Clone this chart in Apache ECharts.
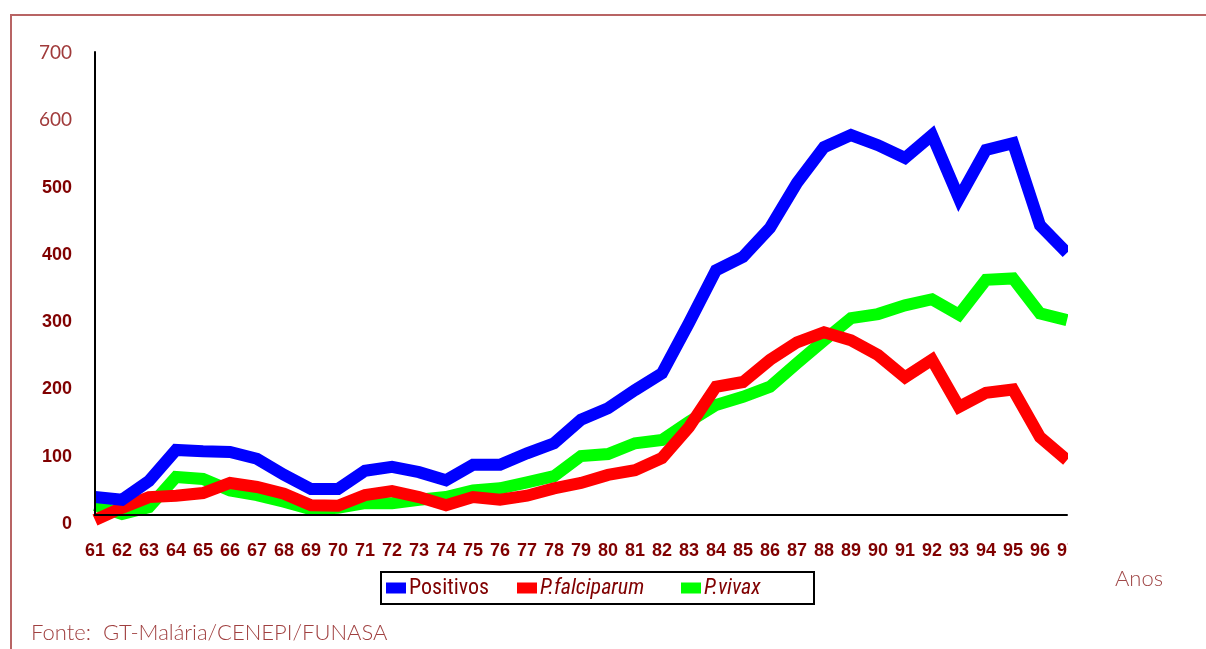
<!DOCTYPE html>
<html>
<head>
<meta charset="utf-8">
<script src="https://cdn.jsdelivr.net/npm/echarts@6/dist/echarts.min.js"></script>
<style>
html,body{margin:0;padding:0;background:#fff;}
#chart{width:1206px;height:649px;}
</style>
</head>
<body>
<div id="chart"></div>
<script>
const years = ['61','62','63','64','65','66','67','68','69','70','71','72','73','74','75','76','77','78','79','80','81','82','83','84','85','86','87','88','89','90','91','92','93','94','95','96','97'];
const positivos = [40,36,64,110,108,107,97,73,52,52,79,85,77,65,88,88,105,120,155,172,199,224,299,377,397,440,507,560,578,563,544,578,484,556,566,444,403];
const falciparum = [6,24,40,42,46,61,55,45,28,27,43,49,40,28,40,36,42,53,61,73,80,98,144,204,211,244,270,285,273,251,218,244,174,195,200,129,95];
const vivax = [28,15,25,70,67,50,43,33,22,24,31,31,36,40,50,53,62,71,101,104,120,125,152,177,189,204,239,273,306,312,325,334,311,363,365,313,303];
const yTicks = [0,100,200,300,400,500,600,700];
const seriesNames = ['Positivos','P.falciparum','P.vivax'];
const axisTitle = 'Anos';
const sourceText = 'Fonte:  GT-Malária/CENEPI/FUNASA';

const chart = echarts.init(document.getElementById('chart'), null, {renderer:'canvas'});
const lightFont = 'Lato, "Open Sans", sans-serif';
const boldFont = '"Liberation Sans", Arial, sans-serif';
const legendFont = '"Liberation Sans Narrow", "Roboto Condensed", Roboto, sans-serif';

function lineSeries(name, data, color, z){
  return {
    name: name, type: 'line', data: data, xAxisIndex: 0, yAxisIndex: 0,
    showSymbol: false, symbol: 'none', z: z, animation: false,
    lineStyle: {color: color, width: 12, cap: 'butt', join: 'miter', miterLimit: 6},
    itemStyle: {color: color}
  };
}

chart.setOption({
  backgroundColor: '#ffffff',
  animation: false,
  grid: [
    {left: 95, right: 139, top: 53, bottom: 125},
    {left: 95, right: 139, top: 52, bottom: 134}
  ],
  xAxis: [
    {type: 'category', gridIndex: 0, data: years, boundaryGap: false, show: false},
    {type: 'category', gridIndex: 1, data: years, boundaryGap: false, z: 10,
     axisLine: {show: true, lineStyle: {color: '#000', width: 2}},
     axisTick: {show: false},
     axisLabel: {interval: 0, margin: 27, color: '#800000', fontFamily: boldFont, fontWeight: 'bold', fontSize: 18},
     splitLine: {show: false}}
  ],
  yAxis: [
    {type: 'value', gridIndex: 0, min: 0, max: 700, interval: 100,
     axisLine: {show: false}, axisTick: {show: false}, splitLine: {show: false},
     axisLabel: {margin: 23, align: 'right',
       formatter: function(v){ return (v >= 600 ? '{l|' : '{b|') + v + '}'; },
       rich: {
         l: {fontFamily: lightFont, fontSize: 19, color: '#a03a3a'},
         b: {fontFamily: boldFont, fontSize: 18, fontWeight: 'bold', color: '#800000'}
       }}},
    {type: 'value', gridIndex: 1, min: 0, max: 700, interval: 100, z: 10,
     axisLine: {show: true, lineStyle: {color: '#000', width: 2}},
     axisTick: {show: false}, axisLabel: {show: false}, splitLine: {show: false}}
  ],
  legend: {
    left: 381, top: 572, orient: 'horizontal',
    itemWidth: 20, itemHeight: 11, itemGap: 0,
    borderColor: '#000', borderWidth: 2, borderRadius: 0,
    padding: [5, 0, 5, 5],
    icon: 'rect',
    textStyle: {fontFamily: legendFont, fontSize: 22, color: '#800000', lineHeight: 22, padding: [0,0,0,-2]},
    data: [
      {name: seriesNames[0], textStyle: {width: 108}},
      {name: seriesNames[1], textStyle: {width: 141, fontStyle: 'italic'}},
      {name: seriesNames[2], textStyle: {width: 110, fontStyle: 'italic'}}
    ]
  },
  graphic: [
    {type: 'polyline', z: 50, shape: {points: [[11, 649], [11, 15], [1206, 15]]},
     style: {stroke: '#b86464', lineWidth: 2, fill: null}},
    {type: 'rect', z: 100, shape: {x: 1068, y: 20, width: 138, height: 545},
     style: {fill: '#ffffff'}},
    {type: 'text', z: 110, left: 1115, top: 568,
     style: {text: axisTitle, font: '300 22px ' + lightFont, fill: '#a04848'}},
    {type: 'text', z: 110, left: 31, top: 622,
     style: {text: sourceText, font: '300 22px ' + lightFont, fill: '#a04040'}}
  ],
  series: [
    lineSeries(seriesNames[0], positivos, '#0000ff', 6),
    lineSeries(seriesNames[1], falciparum, '#ff0000', 5),
    lineSeries(seriesNames[2], vivax, '#00ff00', 4)
  ]
});
</script>
</body>
</html>
